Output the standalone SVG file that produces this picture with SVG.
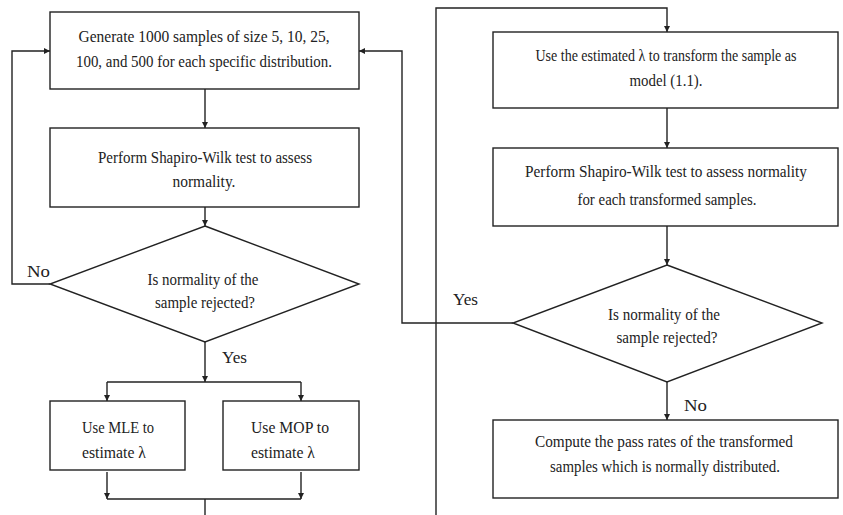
<svg xmlns="http://www.w3.org/2000/svg" width="843" height="515" viewBox="0 0 843 515">
<style>
.box{fill:#fff;stroke:#222;stroke-width:1.4}
.ln{fill:none;stroke:#222;stroke-width:1.4}
text{font-family:"Liberation Serif","Times New Roman",serif;font-size:16.5px;fill:#222}
.c{text-anchor:middle}
</style>
<defs>
<marker id="ah" viewBox="0 0 8 8" refX="8" refY="4" markerWidth="6" markerHeight="6" markerUnits="userSpaceOnUse" orient="auto">
<path d="M0,0 L8,4 L0,8 Z" fill="#222"/>
</marker>
</defs>
<rect width="843" height="515" fill="#fff"/>
<g id="connectors">
<line class="ln" x1="205" y1="89" x2="205" y2="128" marker-end="url(#ah)"/>
<line class="ln" x1="205" y1="207" x2="205" y2="226" marker-end="url(#ah)"/>
<polyline class="ln" points="50,284 12,284 12,51 50,51" marker-end="url(#ah)"/>
<line class="ln" x1="205" y1="342" x2="205" y2="382" marker-end="url(#ah)"/>
<line class="ln" x1="107" y1="382" x2="301" y2="382"/>
<line class="ln" x1="107" y1="382" x2="107" y2="401" marker-end="url(#ah)"/>
<line class="ln" x1="301" y1="382" x2="301" y2="401" marker-end="url(#ah)"/>
<line class="ln" x1="107" y1="472" x2="107" y2="499" marker-end="url(#ah)"/>
<line class="ln" x1="301" y1="472" x2="301" y2="499" marker-end="url(#ah)"/>
<line class="ln" x1="107" y1="499" x2="301" y2="499"/>
<line class="ln" x1="205" y1="499" x2="205" y2="515"/>
<polyline class="ln" points="436,515 436,8 667,8 667,32" marker-end="url(#ah)"/>
<line class="ln" x1="667" y1="108" x2="667" y2="148" marker-end="url(#ah)"/>
<line class="ln" x1="667" y1="226" x2="667" y2="265" marker-end="url(#ah)"/>
<polyline class="ln" points="513,323 402,323 402,51 359,51" marker-end="url(#ah)"/>
<line class="ln" x1="667" y1="382" x2="667" y2="420" marker-end="url(#ah)"/>
<text x="27" y="277" textLength="23" lengthAdjust="spacingAndGlyphs">No</text>
<text x="222" y="363" textLength="25" lengthAdjust="spacingAndGlyphs">Yes</text>
<text x="453" y="305" textLength="25" lengthAdjust="spacingAndGlyphs">Yes</text>
<text x="684" y="411" textLength="23" lengthAdjust="spacingAndGlyphs">No</text>
</g>
<g id="generate">
<rect class="box" x="50" y="12" width="309" height="77"/>
<text class="c" x="204" y="42" textLength="251" lengthAdjust="spacingAndGlyphs">Generate 1000 samples of size 5, 10, 25,</text>
<text class="c" x="204" y="67" textLength="256" lengthAdjust="spacingAndGlyphs">100, and 500 for each specific distribution.</text>
</g>
<g id="sw1">
<rect class="box" x="50" y="128" width="309" height="79"/>
<text class="c" x="205" y="163" textLength="214" lengthAdjust="spacingAndGlyphs">Perform Shapiro-Wilk test to assess</text>
<text class="c" x="204" y="187" textLength="63" lengthAdjust="spacingAndGlyphs">normality.</text>
</g>
<g id="decision1">
<polygon class="box" points="205,226 359,284 205,342 50,284"/>
<text class="c" x="203" y="285" textLength="111" lengthAdjust="spacingAndGlyphs">Is normality of the</text>
<text class="c" x="205" y="308" textLength="100" lengthAdjust="spacingAndGlyphs">sample rejected?</text>
</g>
<g id="mle">
<rect class="box" x="50" y="401" width="135" height="69"/>
<text x="82" y="433" textLength="72" lengthAdjust="spacingAndGlyphs">Use MLE to</text>
<text x="82" y="458" textLength="64" lengthAdjust="spacingAndGlyphs">estimate λ</text>
</g>
<g id="mop">
<rect class="box" x="223" y="401" width="136" height="69"/>
<text x="251" y="433" textLength="78" lengthAdjust="spacingAndGlyphs">Use MOP to</text>
<text x="251" y="458" textLength="64" lengthAdjust="spacingAndGlyphs">estimate λ</text>
</g>
<g id="transform">
<rect class="box" x="493" y="32" width="345" height="76"/>
<text class="c" x="666" y="61" textLength="261" lengthAdjust="spacingAndGlyphs">Use the estimated λ to transform the sample as</text>
<text class="c" x="666" y="86" textLength="73" lengthAdjust="spacingAndGlyphs">model (1.1).</text>
</g>
<g id="sw2">
<rect class="box" x="493" y="148" width="345" height="78"/>
<text class="c" x="666" y="177" textLength="282" lengthAdjust="spacingAndGlyphs">Perform Shapiro-Wilk test to assess normality</text>
<text class="c" x="667" y="205" textLength="179" lengthAdjust="spacingAndGlyphs">for each transformed samples.</text>
</g>
<g id="decision2">
<polygon class="box" points="667,265 822,323 667,382 513,323"/>
<text class="c" x="664" y="320" textLength="112" lengthAdjust="spacingAndGlyphs">Is normality of the</text>
<text class="c" x="667" y="343" textLength="101" lengthAdjust="spacingAndGlyphs">sample rejected?</text>
</g>
<g id="passrates">
<rect class="box" x="493" y="420" width="345" height="78"/>
<text class="c" x="664" y="447" textLength="258" lengthAdjust="spacingAndGlyphs">Compute the pass rates of the transformed</text>
<text class="c" x="665" y="472" textLength="230" lengthAdjust="spacingAndGlyphs">samples which is normally distributed.</text>
</g>
</svg>
